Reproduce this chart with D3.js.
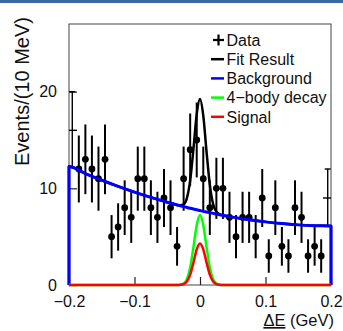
<!DOCTYPE html>
<html>
<head>
<meta charset="utf-8">
<script src="https://cdn.jsdelivr.net/npm/d3@7/dist/d3.min.js"></script>
<style>
  html, body { margin: 0; padding: 0; background: #fff; }
  svg { display: block; font-family: "Liberation Sans", Arial, Helvetica, sans-serif; }
</style>
</head>
<body>
<svg id="chart" width="343" height="331"></svg>
<script>
// ΔE bin centres (10 MeV bins from -0.2 to 0.2 GeV)
const binCenters = [
  -0.195, -0.185, -0.175, -0.165, -0.155, -0.145, -0.135, -0.125, -0.115, -0.105,
  -0.095, -0.085, -0.075, -0.065, -0.055, -0.045, -0.035, -0.025, -0.015, -0.005,
   0.005,  0.015,  0.025,  0.035,  0.045,  0.055,  0.065,  0.075,  0.085,  0.095,
   0.105,  0.115,  0.125,  0.135,  0.145,  0.155,  0.165,  0.175,  0.185,  0.195
];
// Events per bin
const counts = [
  16, 12, 13, 12, 11, 13, 5, 6, 8, 7,
  11, 11, 8, 7, 9, 8, 4, 11, 14, 15,
  11, 8, 10, 10, 7, 5, 7, 7, 5, 9,
  3, 8, 4, 3, 8, 7, 3, 4, 3, 9
];

// Grid on which the fit components are evaluated
const curveX = [
  -0.2, -0.175, -0.15, -0.125, -0.1, -0.075, -0.05, -0.04, -0.035, -0.03,
  -0.025, -0.02, -0.015, -0.01, -0.005, 0, 0.005, 0.01, 0.015, 0.02,
   0.025, 0.03, 0.035, 0.04, 0.05, 0.075, 0.1, 0.125, 0.15, 0.175, 0.2
];
const background = [
  12.26, 11.53, 10.84, 10.20, 9.61, 9.06, 8.56, 8.38, 8.28, 8.20,
  8.11, 8.02, 7.94, 7.86, 7.78, 7.70, 7.62, 7.55, 7.48, 7.41,
  7.34, 7.27, 7.21, 7.14, 7.02, 6.75, 6.53, 6.35, 6.22, 6.14, 6.10
];
const fourBody = [
  0, 0, 0, 0, 0, 0, 0, 0, 0, 0.03,
  0.15, 0.61, 1.81, 3.91, 6.21, 7.25, 6.21, 3.91, 1.81, 0.61,
  0.15, 0.03, 0, 0, 0, 0, 0, 0, 0, 0, 0
];
const signal = [
  0, 0, 0, 0, 0, 0, 0, 0, 0, 0.02,
  0.09, 0.36, 1.07, 2.32, 3.69, 4.30, 3.69, 2.32, 1.07, 0.36,
  0.09, 0.02, 0, 0, 0, 0, 0, 0, 0, 0, 0
];
// Total fit = sum of components
const fitTotal = curveX.map((_, i) => background[i] + fourBody[i] + signal[i]);

const xTicks = [-0.2, -0.1, 0, 0.1, 0.2];
const yTicks = [0, 10, 20];
const xTickLabels = ["\u22120.2", "\u22120.1", "0", "0.1", "0.2"];
const yTickLabels = ["0", "10", "20"];

const legendItems = [
  { label: "Data", kind: "marker", color: "#000" },
  { label: "Fit Result", kind: "line", color: "#000" },
  { label: "Background", kind: "line", color: "#0000ff" },
  { label: "4\u2212body decay", kind: "line", color: "#00ff00" },
  { label: "Signal", kind: "line", color: "#ff0000" }
];

const svg = d3.select("#chart");
const W = 343, H = 331;
const frame = { left: 69, right: 331, top: 24, bottom: 285 };

const x = d3.scaleLinear().domain([-0.2, 0.2]).range([frame.left, frame.right]);
const y = d3.scaleLinear().domain([0, 27]).range([frame.bottom, frame.top]);

// frame
svg.append("rect")
  .attr("x", frame.left).attr("y", frame.top)
  .attr("width", frame.right - frame.left).attr("height", frame.bottom - frame.top)
  .attr("fill", "none").attr("stroke", "#444").attr("stroke-width", 1);

// axes with inward ticks
const xAxis = d3.axisBottom(x).tickValues(xTicks).tickSize(-8).tickPadding(11)
  .tickFormat((d, i) => xTickLabels[i]);
const gx = svg.append("g").attr("transform", `translate(0,${frame.bottom})`).call(xAxis);
gx.select(".domain").remove();
gx.selectAll("line").attr("stroke", "#222").attr("stroke-width", 1.2);
gx.selectAll("text").attr("font-size", 16).attr("fill", "#111").attr("font-family", null);

const yAxis = d3.axisLeft(y).tickValues(yTicks).tickSize(-8).tickPadding(12)
  .tickFormat((d, i) => yTickLabels[i]);
const gy = svg.append("g").attr("transform", `translate(${frame.left},0)`).call(yAxis);
gy.select(".domain").remove();
gy.selectAll("line").attr("stroke", "#222").attr("stroke-width", 1.2);
gy.selectAll("text").attr("font-size", 16).attr("fill", "#111").attr("font-family", null);

// axis titles
svg.append("text")
  .attr("transform", `translate(29,166) rotate(-90)`)
  .attr("text-anchor", "start")
  .attr("font-size", 20).attr("fill", "#111")
  .text("Events/(10 MeV)");

const xt = svg.append("text")
  .attr("x", 334).attr("y", 326)
  .attr("text-anchor", "end")
  .attr("font-size", 16.5).attr("fill", "#111");
xt.append("tspan").attr("text-decoration", "underline").text("\u0394E");
xt.append("tspan").text(" (GeV)");

// data points with Poisson error bars; the two bins touching the frame
// edges get a flat bar marker instead of a dot
const pts = svg.append("g");
const lastBin = binCenters.length - 1;
binCenters.forEach((c, i) => {
  const n = counts[i], e = Math.sqrt(n);
  const edge = (i === 0 || i === lastBin);
  pts.append("line")
    .attr("x1", x(c)).attr("x2", x(c))
    .attr("y1", y(n + e)).attr("y2", y(n - e))
    .attr("stroke", "#000").attr("stroke-width", edge ? 1.4 : 2);
  if (edge) {
    const inward = i === 0 ? 1 : -1;
    const x0 = i === 0 ? frame.left : frame.right;
    pts.append("line")
      .attr("x1", x0).attr("x2", x0 + inward * 8)
      .attr("y1", y(n)).attr("y2", y(n))
      .attr("stroke", "#000").attr("stroke-width", 1.4);
    pts.append("line")
      .attr("x1", x(c) - 3).attr("x2", x(c) + 3)
      .attr("y1", y(n + e)).attr("y2", y(n + e))
      .attr("stroke", "#000").attr("stroke-width", 1.4);
  } else {
    pts.append("circle")
      .attr("cx", x(c)).attr("cy", y(n)).attr("r", 3.4)
      .attr("fill", "#000");
  }
});

// fit curves, closed down to zero at the range edges
function curvePath(vals) {
  const p = curveX.map((d, i) => [x(d), y(vals[i])]);
  p.unshift([x(curveX[0]), y(0)]);
  p.push([x(curveX[curveX.length - 1]), y(0)]);
  return d3.line().curve(d3.curveMonotoneX)(p);
}
const curves = [
  { vals: fitTotal, color: "#000", w: 2.5 },
  { vals: background, color: "#0000ff", w: 3 },
  { vals: fourBody, color: "#00ff00", w: 2.5 },
  { vals: signal, color: "#ff0000", w: 2.5 }
];
curves.forEach(cv => {
  svg.append("path").attr("d", curvePath(cv.vals))
    .attr("fill", "none").attr("stroke", cv.color)
    .attr("stroke-width", cv.w).attr("stroke-linejoin", "round");
});

// legend
const lg = svg.append("g");
legendItems.forEach((it, i) => {
  const cy = 40 + i * 19.2;
  if (it.kind === "marker") {
    lg.append("line").attr("x1", 213).attr("x2", 224).attr("y1", cy).attr("y2", cy)
      .attr("stroke", it.color).attr("stroke-width", 2.2);
    lg.append("line").attr("x1", 218.5).attr("x2", 218.5).attr("y1", cy - 5.5).attr("y2", cy + 5.5)
      .attr("stroke", it.color).attr("stroke-width", 2.2);
  } else {
    lg.append("line").attr("x1", 211).attr("x2", 224).attr("y1", cy).attr("y2", cy)
      .attr("stroke", it.color).attr("stroke-width", 2.5);
  }
  lg.append("text").attr("x", 226.5).attr("y", cy + 5.8)
    .attr("font-size", 16).attr("fill", "#111").text(it.label);
});

// page header strip, drawn last so it sits above the axis title
svg.append("rect").attr("x", 0).attr("y", 0).attr("width", W).attr("height", 3).attr("fill", "#3a6aa3");
</script>
</body>
</html>
